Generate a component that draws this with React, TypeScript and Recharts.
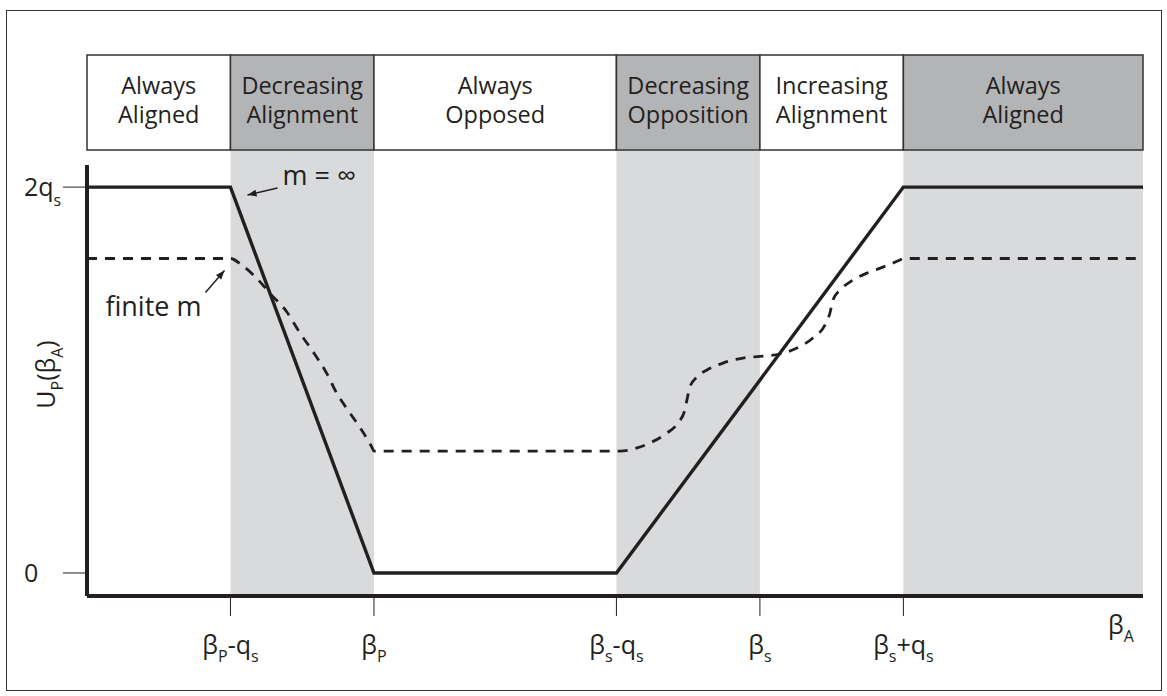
import React from 'react';
import { LineChart, Line, XAxis, YAxis, ReferenceArea, ReferenceDot } from 'recharts';

const INK = '#231f20';
const FONT = '"Open Sans", sans-serif';

// beta_A in units of q_s, measured from the left axis; U_P in units of q_s
const X_MAX = 7.36;
const Y_DOMAIN = [-0.1192, 2.1145];
const SHADE_TOP = 2.1922;
const HEADER_TOP = 2.6846;

const X_TICKS = [1, 2, 3.69, 4.69, 5.69];
const X_TICK_LABELS = ['β_P-q_s', 'β_P', 'β_s-q_s', 'β_s', 'β_s+q_s'];
const Y_TICKS = [0, 2];
const Y_TICK_LABELS = ['0', '2q_s'];

const REGION_EDGES = [0, 1, 2, 3.69, 4.69, 5.69, 7.36];
const REGION_LABELS = [
  ['Always', 'Aligned'],
  ['Decreasing', 'Alignment'],
  ['Always', 'Opposed'],
  ['Decreasing', 'Opposition'],
  ['Increasing', 'Alignment'],
  ['Always', 'Aligned'],
];
const REGION_SHADED = [false, true, false, true, false, true];

// m = infinity (solid)
const INF_X = [0, 1, 2, 3.69, 5.69, 7.36];
const INF_Y = [2, 2, 0, 0, 2, 2];

// finite m (dashed)
const FIN_X = [
  0, 1.0, 1.078, 1.206, 1.275, 1.392, 1.484, 1.575, 1.67, 1.74, 1.833, 1.914, 1.984, 2.0,
  3.714, 3.833, 3.923, 4.042, 4.118, 4.167, 4.181, 4.202, 4.251, 4.321, 4.432, 4.571, 4.711,
  4.829, 4.948, 5.059, 5.143, 5.178, 5.199, 5.247, 5.317, 5.436, 5.547, 5.666, 5.69, 7.36,
];
const FIN_Y = [
  1.63, 1.63, 1.596, 1.509, 1.449, 1.354, 1.244, 1.147, 1.036, 0.933, 0.829, 0.741, 0.654, 0.632,
  0.632, 0.648, 0.674, 0.725, 0.777, 0.845, 0.896, 0.964, 1.016, 1.052, 1.088, 1.114, 1.124,
  1.135, 1.166, 1.218, 1.285, 1.347, 1.415, 1.466, 1.508, 1.554, 1.585, 1.622, 1.63, 1.63,
];

const infData = INF_X.map((x, i) => ({ x, y: INF_Y[i] }));
const finData = FIN_X.map((x, i) => ({ x, y: FIN_Y[i] }));

// "β_P" -> β with subscript P
const richText = (label: string, subSize: number, shift: number) => {
  const out: React.ReactNode[] = [];
  let buf = '';
  let lowered = false;
  const flush = () => {
    if (buf) {
      out.push(<tspan key={out.length} dy={lowered ? -shift : 0}>{buf}</tspan>);
      lowered = false;
      buf = '';
    }
  };
  for (let i = 0; i < label.length; i++) {
    if (label[i] === '_' && i + 1 < label.length) {
      flush();
      out.push(
        <tspan key={out.length} fontSize={subSize} dy={lowered ? 0 : shift}>
          {label[i + 1]}
        </tspan>
      );
      lowered = true;
      i++;
    } else {
      buf += label[i];
    }
  }
  flush();
  return out;
};

const XTick = (props: any) => {
  const { x, y, payload } = props;
  const label = X_TICK_LABELS[X_TICKS.indexOf(payload.value)] ?? '';
  return (
    <text x={x} y={y + 36} textAnchor="middle" fontFamily={FONT} fontSize={25} fill={INK}>
      {richText(label, 16, 8)}
    </text>
  );
};

const YTick = (props: any) => {
  const { x, y, payload } = props;
  const label = Y_TICK_LABELS[Y_TICKS.indexOf(payload.value)] ?? '';
  return (
    <text x={x - 37} y={y + 9} textAnchor="start" fontFamily={FONT} fontSize={25} fill={INK}>
      {richText(label, 16, 10)}
    </text>
  );
};

const YLabel = (props: any) => {
  const vb = props.viewBox || { x: 0, y: 165, width: 87, height: 431 };
  const cx = vb.x + 55;
  const cy = vb.y + vb.height / 2 - 6;
  return (
    <text
      x={cx}
      y={cy}
      transform={`rotate(-90 ${cx} ${cy})`}
      textAnchor="middle"
      fontFamily={FONT}
      fontSize={25}
      fill={INK}
    >
      {richText('U_P(β_A)', 16, 8)}
    </text>
  );
};

const XLabel = (props: any) => {
  const vb = props.viewBox || { x: 87, y: 596, width: 1056, height: 60 };
  return (
    <text x={vb.x + vb.width - 35} y={vb.y + 38} fontFamily={FONT} fontSize={25} fill={INK}>
      {richText('β_A', 16, 8)}
    </text>
  );
};

const HeaderLabel = (props: any) => {
  const { viewBox, lines } = props;
  if (!viewBox) return null;
  const cx = viewBox.x + viewBox.width / 2;
  const cy = viewBox.y + viewBox.height / 2;
  return (
    <text textAnchor="middle" fontFamily={FONT} fontSize={23.5} fill={INK}>
      <tspan x={cx} y={cy - 8.5}>{lines[0]}</tspan>
      <tspan x={cx} y={cy + 20.5}>{lines[1]}</tspan>
    </text>
  );
};

const arrowHead = (x1: number, y1: number, x2: number, y2: number, len = 9, half = 3.5) => {
  const dx = x2 - x1;
  const dy = y2 - y1;
  const d = Math.hypot(dx, dy);
  const ux = dx / d;
  const uy = dy / d;
  const bx = x2 - ux * len;
  const by = y2 - uy * len;
  return `${x2},${y2} ${bx - uy * half},${by + ux * half} ${bx + uy * half},${by - ux * half}`;
};

const Note = (props: any) => {
  const { cx, cy, text, tdx, tdy, anchor, from, to } = props;
  if (cx == null || cy == null) return null;
  const x1 = cx + from[0];
  const y1 = cy + from[1];
  const x2 = cx + to[0];
  const y2 = cy + to[1];
  return (
    <g>
      <line x1={x1} y1={y1} x2={x2} y2={y2} stroke={INK} strokeWidth={1.5} />
      <polygon points={arrowHead(x1, y1, x2, y2)} fill={INK} />
      <text x={cx + tdx} y={cy + tdy} textAnchor={anchor} fontFamily={FONT} fontSize={27} fill={INK}>
        {text}
      </text>
    </g>
  );
};

export default function App() {
  return (
    <div style={{ position: 'absolute', left: 0, top: 0, width: 1167, height: 696, background: '#fff' }}>
      <div
        style={{
          position: 'absolute',
          left: 6,
          top: 10,
          width: 1154,
          height: 679,
          border: '1px solid #333',
        }}
      />
      <div style={{ position: 'absolute', left: 0, top: 0 }}>
        <LineChart width={1167} height={696} margin={{ top: 165, right: 24, bottom: 40, left: 0 }}>
          {REGION_LABELS.map((_, i) =>
            REGION_SHADED[i] ? (
              <ReferenceArea
                key={`shade-${i}`}
                x1={REGION_EDGES[i]}
                x2={REGION_EDGES[i + 1]}
                y1={Y_DOMAIN[0]}
                y2={SHADE_TOP}
                fill="#d9dadc"
                fillOpacity={1}
                stroke="none"
                ifOverflow="visible"
              />
            ) : null
          )}
          {REGION_LABELS.map((lines, i) => (
            <ReferenceArea
              key={`head-${i}`}
              x1={REGION_EDGES[i]}
              x2={REGION_EDGES[i + 1]}
              y1={SHADE_TOP}
              y2={HEADER_TOP}
              fill={REGION_SHADED[i] ? '#b3b4b6' : '#ffffff'}
              fillOpacity={1}
              stroke="#333"
              strokeWidth={1.5}
              ifOverflow="visible"
              label={<HeaderLabel lines={lines} />}
            />
          ))}
          <XAxis
            dataKey="x"
            type="number"
            domain={[0, X_MAX]}
            ticks={X_TICKS}
            interval={0}
            allowDataOverflow
            tick={<XTick />}
            tickSize={20}
            tickLine={{ stroke: INK, strokeWidth: 1 }}
            axisLine={{ stroke: INK, strokeWidth: 4 }}
            height={60}
            label={XLabel}
          />
          <YAxis
            type="number"
            domain={Y_DOMAIN}
            ticks={Y_TICKS}
            interval={0}
            allowDataOverflow
            tick={<YTick />}
            tickSize={24}
            tickLine={{ stroke: INK, strokeWidth: 1 }}
            axisLine={{ stroke: INK, strokeWidth: 4 }}
            width={87}
            label={YLabel}
          />
          <Line
            data={finData}
            dataKey="y"
            type="monotone"
            stroke={INK}
            strokeWidth={2.8}
            strokeDasharray="10 8"
            dot={false}
            activeDot={false}
            isAnimationActive={false}
          />
          <Line
            data={infData}
            dataKey="y"
            type="linear"
            stroke={INK}
            strokeWidth={3.4}
            dot={false}
            activeDot={false}
            isAnimationActive={false}
          />
          <ReferenceDot
            x={1}
            y={2}
            r={0}
            shape={(p: any) => (
              <Note {...p} text="m = ∞" tdx={52} tdy={-2} anchor="start" from={[47, 1]} to={[17, 8]} />
            )}
          />
          <ReferenceDot
            x={1}
            y={1.63}
            r={0}
            shape={(p: any) => (
              <Note {...p} text="finite m" tdx={-29} tdy={58} anchor="end" from={[-25, 34]} to={[-6, 12]} />
            )}
          />
        </LineChart>
      </div>
    </div>
  );
}
